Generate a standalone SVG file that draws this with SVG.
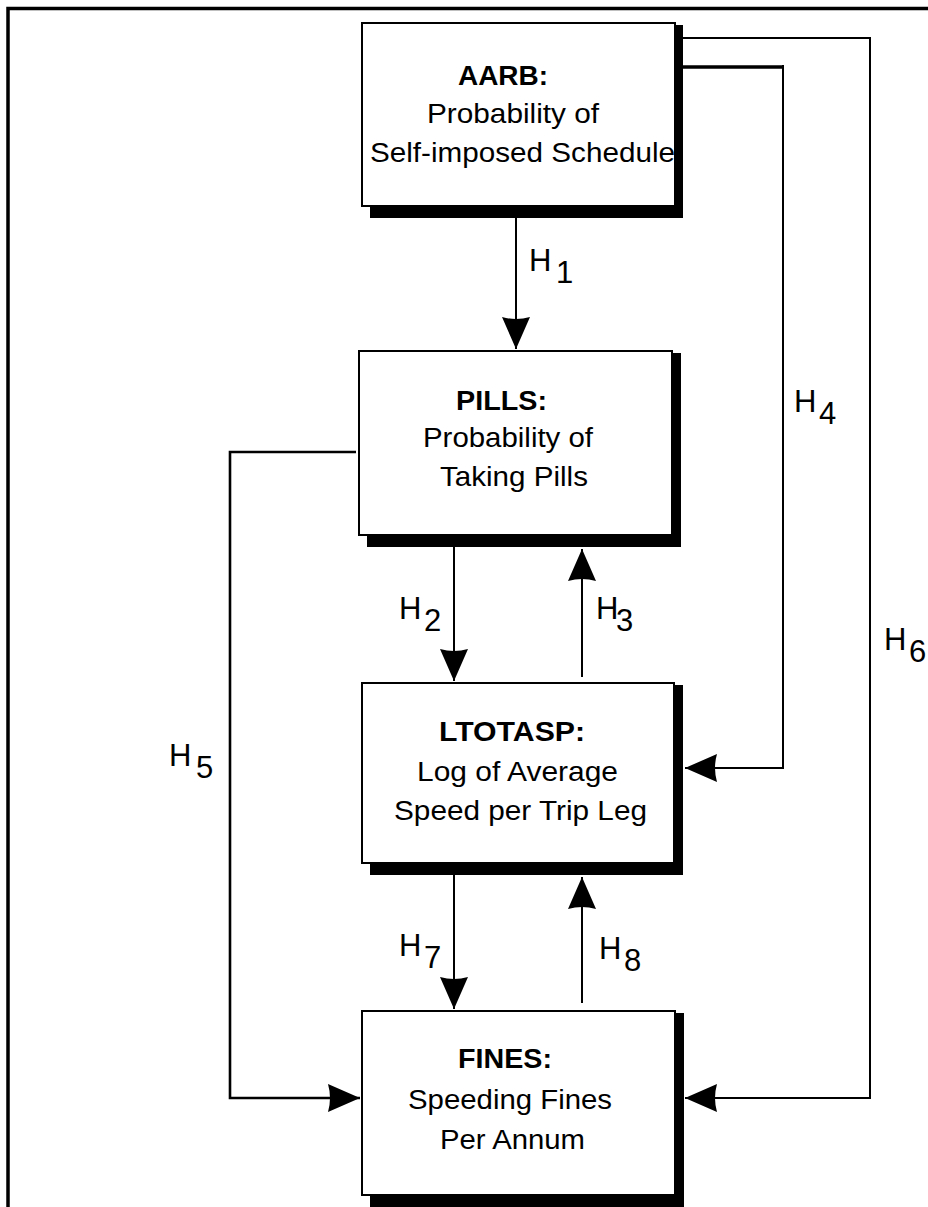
<svg xmlns="http://www.w3.org/2000/svg" width="928" height="1207" viewBox="0 0 928 1207">
<style>
.box{fill:#fff;stroke:#000;stroke-width:2}
.shadow{fill:#000}
.t{font-family:"Liberation Sans",Arial,sans-serif;font-size:27.5px;fill:#000}
.b{font-weight:bold}
.h{font-family:"Liberation Sans",Arial,sans-serif;font-size:31px;fill:#000}
.c{fill:none;stroke:#000;stroke-width:2}
</style>
<defs>
<marker id="arr" markerUnits="userSpaceOnUse" markerWidth="40" markerHeight="34" viewBox="-36 -17 40 34" refX="0" refY="0" orient="auto">
<path d="M0,0 L-32,-14 Q-28,0 -32,14 Z" fill="#000"/>
</marker>
</defs>
<rect width="928" height="1207" fill="#fff"/>
<path d="M8,1207 V8.5 H928" fill="none" stroke="#000" stroke-width="3.5"/>

<g id="connectors">
<path class="c" d="M516,218 V349" marker-end="url(#arr)"/>
<path class="c" d="M454,547 V681" marker-end="url(#arr)"/>
<path class="c" d="M582,677 V549" marker-end="url(#arr)"/>
<path class="c" d="M454,875 V1009" marker-end="url(#arr)"/>
<path class="c" d="M582,1003 V877" marker-end="url(#arr)"/>
<path class="c" d="M683,67 H784" style="stroke-width:3.5"/>
<path class="c" d="M783,65 V768 H685" marker-end="url(#arr)"/>
<path class="c" d="M683,38 H870 V1098 H685" marker-end="url(#arr)"/>
<path class="c" d="M356,452 H230 V1098 H360" style="stroke-width:2.6" marker-end="url(#arr)"/>
</g>

<g id="node-aarb">
<rect class="shadow" x="370" y="25" width="313" height="193"/>
<rect class="box" x="362" y="23" width="313" height="183"/>
<text class="t b" x="458" y="85" textLength="90" lengthAdjust="spacingAndGlyphs">AARB:</text>
<text class="t" x="427" y="123" textLength="172" lengthAdjust="spacingAndGlyphs">Probability of</text>
<text class="t" x="370" y="162" textLength="305" lengthAdjust="spacingAndGlyphs">Self-imposed Schedule</text>
</g>

<g id="node-pills">
<rect class="shadow" x="367" y="353" width="314" height="194"/>
<rect class="box" x="359" y="351" width="313" height="184"/>
<text class="t b" x="456" y="410" textLength="91" lengthAdjust="spacingAndGlyphs">PILLS:</text>
<text class="t" x="423" y="447" textLength="170" lengthAdjust="spacingAndGlyphs">Probability of</text>
<text class="t" x="440" y="486" textLength="148" lengthAdjust="spacingAndGlyphs">Taking Pills</text>
</g>

<g id="node-ltotasp">
<rect class="shadow" x="370" y="685" width="313" height="190"/>
<rect class="box" x="362" y="683" width="312" height="180"/>
<text class="t b" x="439" y="741" textLength="146" lengthAdjust="spacingAndGlyphs">LTOTASP:</text>
<text class="t" x="417" y="781" textLength="201" lengthAdjust="spacingAndGlyphs">Log of Average</text>
<text class="t" x="394" y="820" textLength="253" lengthAdjust="spacingAndGlyphs">Speed per Trip Leg</text>
</g>

<g id="node-fines">
<rect class="shadow" x="370" y="1013" width="314" height="194"/>
<rect class="box" x="362" y="1011" width="313" height="184"/>
<text class="t b" x="458" y="1068" textLength="94" lengthAdjust="spacingAndGlyphs">FINES:</text>
<text class="t" x="408" y="1109" textLength="204" lengthAdjust="spacingAndGlyphs">Speeding Fines</text>
<text class="t" x="440" y="1149" textLength="145" lengthAdjust="spacingAndGlyphs">Per Annum</text>
</g>

<g id="labels">
<text class="h" x="529" y="271">H<tspan x="556" y="283">1</tspan></text>
<text class="h" x="399" y="619">H<tspan x="424" y="631">2</tspan></text>
<text class="h" x="596" y="619">H<tspan x="616" y="631">3</tspan></text>
<text class="h" x="794" y="412">H<tspan x="819" y="424">4</tspan></text>
<text class="h" x="169" y="766">H<tspan x="196" y="778">5</tspan></text>
<text class="h" x="884" y="650">H<tspan x="909" y="662">6</tspan></text>
<text class="h" x="399" y="956">H<tspan x="424" y="968">7</tspan></text>
<text class="h" x="599" y="959">H<tspan x="624" y="971">8</tspan></text>
</g>
</svg>
